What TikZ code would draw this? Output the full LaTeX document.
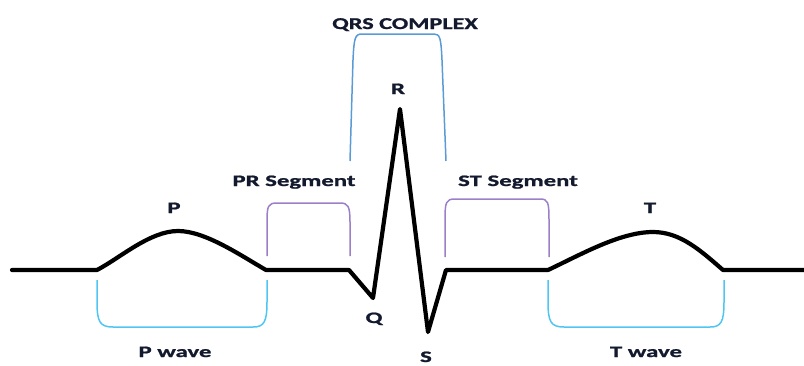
\documentclass[tikz,border=0pt]{standalone}
\usepackage{fontspec}
\setmainfont{Carlito}
\newfontfamily\lblfont{Carlito}[FakeStretch=1.55,FakeBold=1.2]
\newfontfamily\qrsfont{Carlito}[FakeStretch=1.47,FakeBold=1.2]
\definecolor{qrsblue}{HTML}{5B9BD5}
\definecolor{segpurple}{HTML}{9B7FC8}
\definecolor{wavecyan}{HTML}{4FC6F2}
\definecolor{labelink}{HTML}{141A2E}
\begin{document}
\begin{tikzpicture}[x=1pt,y=-1pt,
  wave/.style={line width=4.2pt,line join=round,line cap=round,black},
  brk/.style={line width=1.5pt},
  lbl/.style={font=\lblfont\bfseries\fontsize{16}{19}\selectfont,text=labelink,inner sep=0pt,anchor=base},
  qlbl/.style={lbl,font=\qrsfont\bfseries\fontsize{16.5}{19}\selectfont}]
\useasboundingbox (0,0) rectangle (804,365);
% waveform
\coordinate (w0) at (12,270);
\coordinate (p0) at (97,270);
\coordinate (pk) at (178,231);
\coordinate (p1) at (266,270);
\coordinate (q0) at (349,270);
\coordinate (q) at (373,298);
\coordinate (r) at (400,109);
\coordinate (s) at (428,332);
\coordinate (s1) at (446,270);
\coordinate (t0) at (548,270);
\coordinate (tk) at (653,232);
\coordinate (t1) at (723,270);
\coordinate (w1) at (804,270);
\draw[wave] (w0) -- (p0)
  .. controls (120,258) and (150,231) .. (pk)
  .. controls (205,231) and (240,255) .. (p1)
  -- (q0) -- (q) -- (r) -- (s) -- (s1) -- (t0)
  .. controls (580,255) and (620,232) .. (tk)
  .. controls (680,232) and (700,250) .. (t1)
  -- (w1);
% QRS bracket
\draw[brk,qrsblue] (350,161) -- (353,60) .. controls (354,38) and (355,34) .. (362,34) -- (434,34) .. controls (440,34) and (441,38) .. (442,60) -- (446,161);
% PR segment bracket
\draw[brk,segpurple] (267,256) -- (267,222) .. controls (267,206) and (268,203) .. (277,203) -- (340,203) .. controls (348,203) and (350,206) .. (350,222) -- (350,256);
% ST segment bracket
\draw[brk,segpurple] (445,257) -- (445,220) .. controls (445,202) and (446,199) .. (455,199) -- (540,199) .. controls (548,199) and (549,202) .. (549,220) -- (549,257);
% P wave bracket
\draw[brk,wavecyan] (97,280) -- (97,302) .. controls (97,322) and (100,327) .. (113,327) -- (253,327) .. controls (264,327) and (267,322) .. (267,302) -- (267,280);
% T wave bracket
\draw[brk,wavecyan] (548,280) -- (548,302) .. controls (548,322) and (551,327) .. (564,327) -- (710,327) .. controls (721,327) and (724,322) .. (724,302) -- (724,280);
% labels
\node[qlbl] (lqrs) at (405,29) {QRS COMPLEX};
\node[lbl] (lr) at (398,94) {R};
\node[lbl] (lpr) at (294,186) {PR Segment};
\node[lbl] (lst) at (518,186) {ST Segment};
\node[lbl] (lp) at (174,213) {P};
\node[lbl] (lt) at (650,213) {T};
\node[lbl] (lq) at (374,323) {Q};
\node[lbl] (ls) at (426,362) {S};
\node[lbl] (lpw) at (175,357) {P wave};
\node[lbl] (ltw) at (646,357) {T wave};
\end{tikzpicture}
\end{document}
